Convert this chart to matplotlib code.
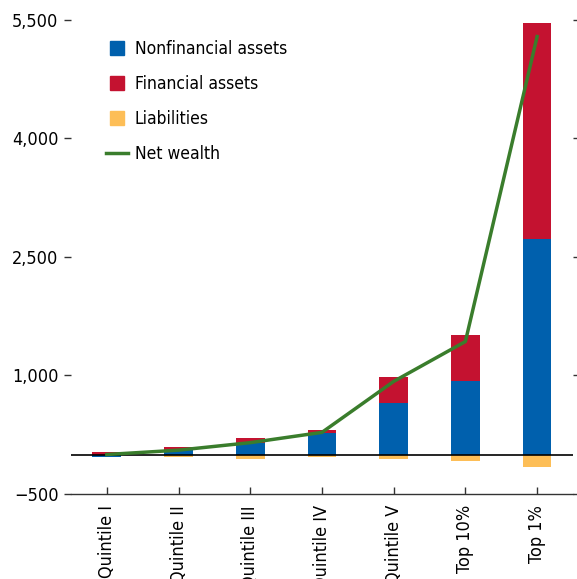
import matplotlib
matplotlib.use("Agg")
import matplotlib.pyplot as plt
from matplotlib.lines import Line2D
import numpy as np

categories = ["Quintile I", "Quintile II", "Quintile III", "Quintile IV", "Quintile V", "Top 10%", "Top 1%"]
nonfinancial = [-35, 55, 143, 270, 654, 928, 2722]
financial = [30, 34, 60, 46, 333, 582, 2734]
liabilities = [0, -34, -51, -34, -63, -76, -161]
net_wealth = [0, 55, 150, 280, 925, 1430, 5290]
yticks = [-500, 1000, 2500, 4000, 5500]

c_nf, c_fin, c_liab, c_net = "#0060ad", "#c41230", "#fdbe57", "#3a7d2c"

plt.rcParams['font.family'] = ['DejaVu Sans']
plt.rcParams['font.stretch'] = 'condensed'

fig = plt.figure(figsize=(5.77, 5.79), dpi=100)
ax = fig.add_axes([0.123, 0.1468, 0.870, 0.8187])

x = np.arange(len(categories))
w = 0.4
nf = np.array(nonfinancial, dtype=float)
fin = np.array(financial, dtype=float)
fin_bottom = np.where(nf > 0, nf, 0)
ax.bar(x, nf, w, color=c_nf, zorder=2)
ax.bar(x, fin, w, bottom=fin_bottom, color=c_fin, zorder=2)
ax.bar(x, liabilities, w, color=c_liab, zorder=2)
ax.axhline(0, color="black", lw=1.2, zorder=3)
ax.plot(x, net_wealth, color=c_net, lw=2.5, zorder=4)

ax.set_xlim(-0.5, len(categories) - 0.5)
ax.set_ylim(-500, 5500)
ax.set_yticks(yticks)
ax.set_yticklabels([f"{v:,}".replace("-", "\u2212") for v in yticks], fontsize=13, fontstretch='condensed')
ax.set_xticks(x)
ax.set_xticklabels(categories, rotation=90, fontsize=13, fontstretch='condensed')

for s in ["top", "left", "right"]:
    ax.spines[s].set_visible(False)
ax.spines["bottom"].set_color("#333333")
ax.spines["bottom"].set_linewidth(1.0)

ax.tick_params(axis="y", which="both", left=True, right=True, direction="out", length=5,
               width=1, color="#333333", pad=4)
ax.tick_params(axis="x", direction="in", length=5, width=1, color="#333333", pad=8)

handles = [
    Line2D([], [], ls="none", marker="s", markersize=10, color=c_nf),
    Line2D([], [], ls="none", marker="s", markersize=10, color=c_fin),
    Line2D([], [], ls="none", marker="s", markersize=10, color=c_liab),
    Line2D([], [], color=c_net, lw=2.5),
]
labels = ["Nonfinancial assets", "Financial assets", "Liabilities", "Net wealth"]
leg = ax.legend(handles, labels, loc="upper left", bbox_to_anchor=(0.038, 0.990), frameon=False,
                prop={'size': 12.5, 'stretch': 'condensed'},
                handlelength=1.27, labelspacing=0.97, handletextpad=0.4, borderpad=0.4)

fig.savefig("out.png", dpi=100)
